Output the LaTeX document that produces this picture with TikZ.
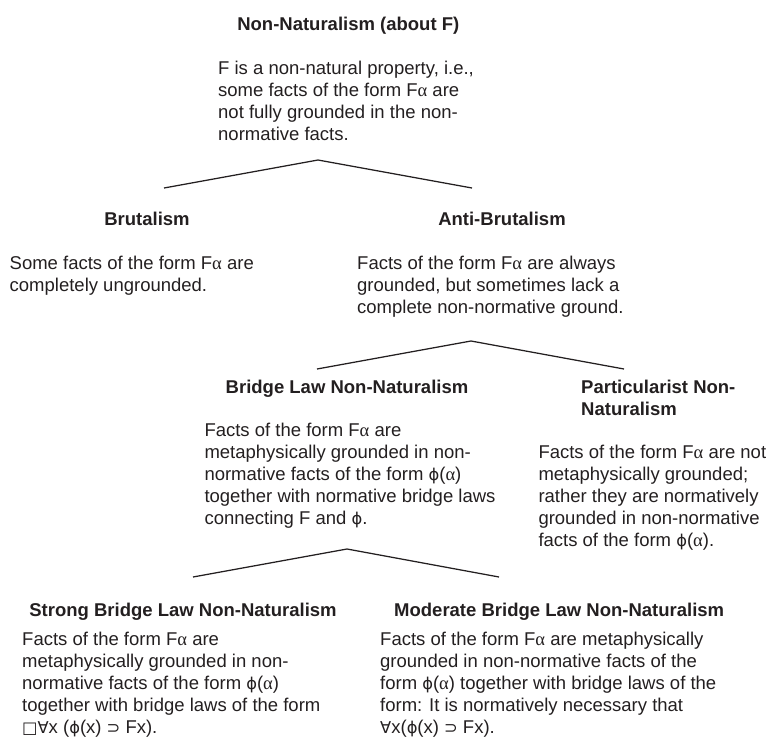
\documentclass[tikz,border=0pt]{standalone}
\usepackage{fontspec}
\setmainfont{Liberation Sans}
\newfontfamily\symf{DejaVu Sans}[Scale=0.88]
\newfontfamily\grkf{Liberation Serif}
\newcommand\al{{\grkf α}}
\newcommand\ph{{\symf ϕ}}
\newcommand\fa{{\symf ∀}}
\newcommand\sps{{\symf ⊃}}
\newcommand\bx{{\symf □}}
\newcommand\tstr{\rule{0pt}{15pt}}
\definecolor{ink}{HTML}{231F20}
\begin{document}
\begin{tikzpicture}[x=1pt,y=-1pt,
  head/.style={font=\fontsize{18.5}{22}\selectfont\bfseries, inner sep=0pt, text=ink, anchor=base},
  headml/.style={font=\fontsize{18.5}{22}\selectfont\bfseries, inner sep=0pt, text=ink, align=left, anchor=north west},
  body/.style={font=\fontsize{18.5}{22}\selectfont, inner sep=0pt, text=ink, align=left, anchor=north west},
  branch/.style={draw=ink, line width=1.25pt}]
\useasboundingbox (0,0) rectangle (771,750);

% headings
\node[head] (nn) at (348.3,30.5) {Non-Naturalism (about F)};
\node[head] (br) at (147,225.5) {Brutalism};
\node[head] (ab) at (502,225.5) {Anti-Brutalism};
\node[head] (bl) at (347,393) {Bridge Law Non-Naturalism};
\node[headml] (pn) at (581,378) {\tstr Particularist Non-\\Naturalism};
\node[head] (sb) at (183,616) {Strong Bridge Law Non-Naturalism};
\node[head, anchor=base west] (mb) at (394,616) {Moderate Bridge Law Non-Naturalism};

% bodies
\node[body] (nnt) at (218,59.5) {\tstr F is a non-natural property, i.e.,\\some facts of the form F\al{} are\\not fully grounded in the non-\\normative facts.};
\node[body] (brt) at (9.5,254.5) {\tstr Some facts of the form F\al{} are\\completely ungrounded.};
\node[body] (abt) at (357,254.5) {\tstr Facts of the form F\al{} are always\\grounded, but sometimes lack a\\complete non-normative ground.};
\node[body] (blt) at (204.3,421.5) {\tstr Facts of the form F\al{} are\\metaphysically grounded in non-\\normative facts of the form \ph(\al)\\together with normative bridge laws\\connecting F and \ph.};
\node[body] (pnt) at (538.3,443.5) {\tstr Facts of the form F\al{} are not\\metaphysically grounded;\\rather they are normatively\\grounded in non-normative\\facts of the form \ph(\al).};
\node[body] (sbt) at (22,630.5) {\tstr Facts of the form F\al{} are\\metaphysically grounded in non-\\normative facts of the form \ph(\al)\\together with bridge laws of the form\\\bx\fa x (\ph(x) \sps{} Fx).};
\node[body] (mbt) at (380,630.5) {\tstr Facts of the form F\al{} are metaphysically\\grounded in non-normative facts of the\\form \ph(\al) together with bridge laws of the\\form: It is normatively necessary that\\\fa x(\ph(x) \sps{} Fx).};

% branch points
\coordinate (t1) at (318,160);
\coordinate (t1l) at (164,188);
\coordinate (t1r) at (472,188);
\coordinate (t2) at (471,341);
\coordinate (t2l) at (317,369);
\coordinate (t2r) at (624,369);
\coordinate (t3) at (347,549);
\coordinate (t3l) at (193,577);
\coordinate (t3r) at (499,577);

\draw[branch] (t1l) -- (t1) -- (t1r);
\draw[branch] (t2l) -- (t2) -- (t2r);
\draw[branch] (t3l) -- (t3) -- (t3r);
\end{tikzpicture}
\end{document}
